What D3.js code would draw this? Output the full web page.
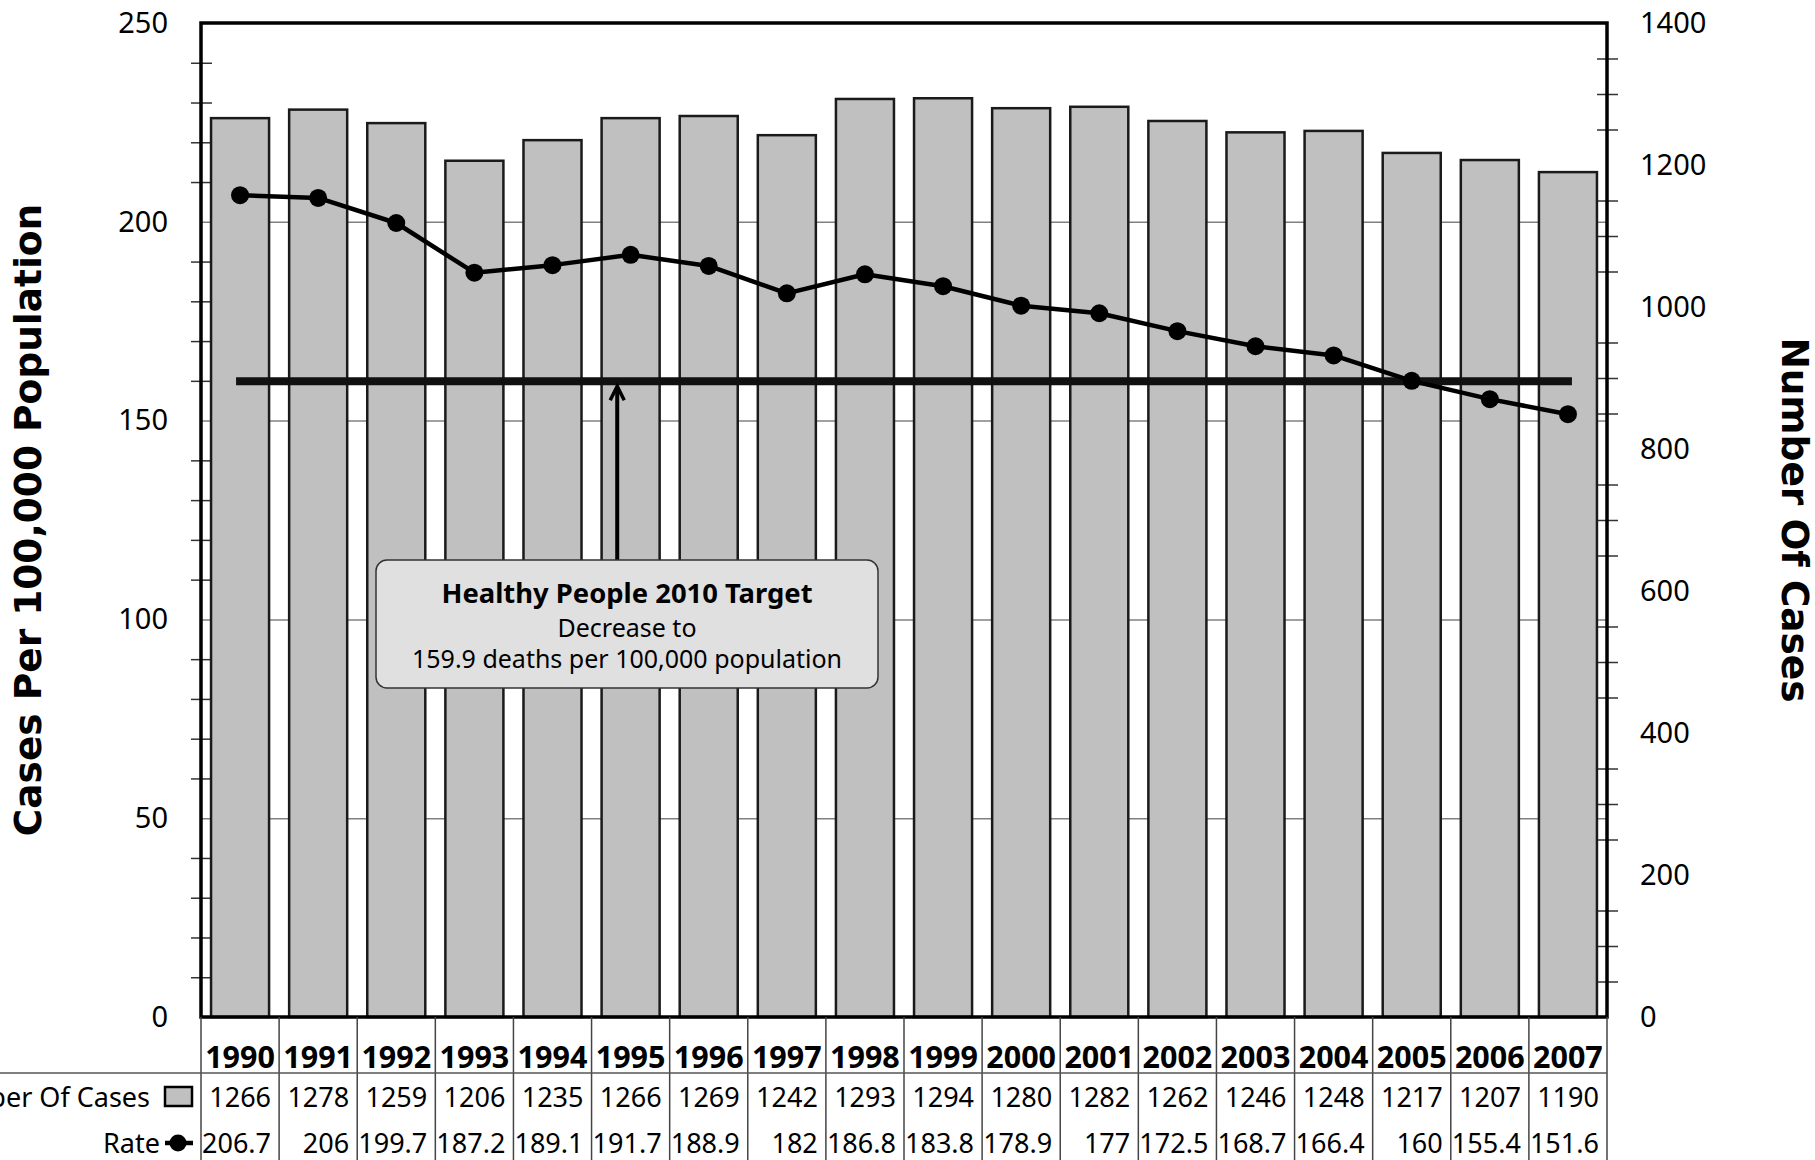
<!DOCTYPE html>
<html>
<head>
<meta charset="utf-8">
<script src="https://cdn.jsdelivr.net/npm/d3@7"></script>
<style>
  html, body { margin: 0; padding: 0; background: #fff; }
  svg { display: block; }
</style>
</head>
<body>
<svg id="chart" width="1815" height="1160"></svg>
<script>
// ---- Data ----
const years = ["1990","1991","1992","1993","1994","1995","1996","1997","1998","1999","2000","2001","2002","2003","2004","2005","2006","2007"];
const cases = [1266,1278,1259,1206,1235,1266,1269,1242,1293,1294,1280,1282,1262,1246,1248,1217,1207,1190];
const rates = [206.7,206,199.7,187.2,189.1,191.7,188.9,182,186.8,183.8,178.9,177,172.5,168.7,166.4,160,155.4,151.6];
const rateTicks = [0,50,100,150,200,250];
const caseTicks = [0,200,400,600,800,1000,1200,1400];
const target = 159.9;
const leftTitle = "Cases Per 100,000 Population";
const rightTitle = "Number Of Cases";
const rowLabels = ["Number Of Cases","Rate"];
const noteLines = ["Healthy People 2010 Target","Decrease to","159.9 deaths per 100,000 population"];

// ---- Layout ----
const L = 201, R = 1607, T = 23, B = 1017;
const svg = d3.select("#chart");
const numFont = "'Noto Sans', 'Open Sans', sans-serif";
const titleFont = "'DejaVu Sans', Verdana, sans-serif";

const x = d3.scaleBand().domain(years).range([L, R]).paddingInner(0.257).paddingOuter(0.1285);
const yRate = d3.scaleLinear().domain([0, 250]).range([B, T]);
const yCases = d3.scaleLinear().domain([0, 1400]).range([B, T]);
const step = x.step();
const cx = d => x(d) + x.bandwidth() / 2;

// gridlines (left major)
const grid = svg.append("g").attr("transform", `translate(${L},0)`)
  .call(d3.axisLeft(yRate).tickValues([50,100,150,200]).tickSize(-(R - L)).tickFormat(""));
grid.select(".domain").remove();
grid.selectAll("line").attr("stroke", "#808080").attr("stroke-width", 1.5);

// minor ticks left
const minorLeft = d3.range(10, 250, 10).filter(v => v % 50 !== 0);
const ml = svg.append("g").attr("transform", `translate(${L - 10},0)`)
  .call(d3.axisLeft(yRate).tickValues(minorLeft).tickSize(-21).tickFormat(""));
ml.select(".domain").remove();
ml.selectAll("line").attr("stroke", "#333").attr("stroke-width", 1.5);

// minor ticks right
const minorRight = d3.range(50, 1400, 50).filter(v => v % 200 !== 0);
const mr = svg.append("g").attr("transform", `translate(${R - 10},0)`)
  .call(d3.axisRight(yCases).tickValues(minorRight).tickSize(21).tickFormat(""));
mr.select(".domain").remove();
mr.selectAll("line").attr("stroke", "#333").attr("stroke-width", 1.5);

// bars
svg.append("g").selectAll("rect").data(years).join("rect")
  .attr("x", d => x(d))
  .attr("width", x.bandwidth())
  .attr("y", (d, i) => yCases(cases[i]))
  .attr("height", (d, i) => B - yCases(cases[i]))
  .attr("fill", "#c0c0c0")
  .attr("stroke", "#1a1a1a")
  .attr("stroke-width", 2.5);

// target line
svg.append("line")
  .attr("x1", cx(years[0])).attr("x2", cx(years[years.length - 1]))
  .attr("y1", yRate(target)).attr("y2", yRate(target))
  .attr("stroke", "#111").attr("stroke-width", 8).attr("stroke-linecap", "square");

// rate line
const line = d3.line().x((d, i) => cx(years[i])).y(d => yRate(d));
svg.append("path").datum(rates)
  .attr("d", line).attr("fill", "none").attr("stroke", "#000").attr("stroke-width", 4.5)
  .attr("stroke-linejoin", "round");
svg.append("g").selectAll("circle").data(rates).join("circle")
  .attr("cx", (d, i) => cx(years[i])).attr("cy", d => yRate(d)).attr("r", 9).attr("fill", "#000");

// plot frame
svg.append("rect").attr("x", L).attr("y", T).attr("width", R - L).attr("height", B - T)
  .attr("fill", "none").attr("stroke", "#000").attr("stroke-width", 3.5);

// axis labels
const la = svg.append("g").attr("transform", `translate(${L},0)`)
  .call(d3.axisLeft(yRate).tickValues(rateTicks).tickSize(0).tickPadding(33).tickFormat(d3.format("d")));
la.select(".domain").remove();
la.selectAll("text").attr("font-family", numFont).attr("font-size", 29).attr("fill", "#000");

const ra = svg.append("g").attr("transform", `translate(${R},0)`)
  .call(d3.axisRight(yCases).tickValues(caseTicks).tickSize(0).tickPadding(33).tickFormat(d3.format("d")));
ra.select(".domain").remove();
ra.selectAll("text").attr("font-family", numFont).attr("font-size", 29).attr("fill", "#000");

// axis titles
svg.append("text")
  .attr("transform", `translate(41,${(T + B) / 2}) rotate(-90)`)
  .attr("text-anchor", "middle").attr("font-family", titleFont).attr("font-weight", "bold")
  .attr("font-size", 37.5).text(leftTitle);
svg.append("text")
  .attr("transform", `translate(1782,${(T + B) / 2}) rotate(90)`)
  .attr("text-anchor", "middle").attr("font-family", titleFont).attr("font-weight", "bold")
  .attr("font-size", 37.5).text(rightTitle);

// annotation arrow + box
const arrowX = x(years[5]) + 0.2 * step;
const boxTop = 560, boxBottom = 688, boxLeft = 376, boxRight = 878;
const tipY = yRate(target) + 5;
svg.append("line").attr("x1", arrowX).attr("x2", arrowX).attr("y1", boxTop).attr("y2", tipY + 2)
  .attr("stroke", "#000").attr("stroke-width", 4);
svg.append("path")
  .attr("d", `M${arrowX - 7},${tipY + 14} L${arrowX},${tipY} L${arrowX + 7},${tipY + 14}`)
  .attr("fill", "none").attr("stroke", "#000").attr("stroke-width", 3.5).attr("stroke-linejoin", "miter");

svg.append("rect").attr("x", boxLeft).attr("y", boxTop).attr("width", boxRight - boxLeft).attr("height", boxBottom - boxTop)
  .attr("rx", 11).attr("fill", "#e0e0e0").attr("stroke", "#333").attr("stroke-width", 1.5);
const bx = (boxLeft + boxRight) / 2;
svg.append("text").attr("x", bx).attr("y", 603).attr("text-anchor", "middle")
  .attr("font-family", numFont).attr("font-weight", "bold").attr("font-size", 27.4).text(noteLines[0]);
svg.append("text").attr("x", bx).attr("y", 637).attr("text-anchor", "middle")
  .attr("font-family", numFont).attr("font-size", 25).text(noteLines[1]);
svg.append("text").attr("x", bx).attr("y", 668).attr("text-anchor", "middle")
  .attr("font-family", numFont).attr("font-size", 25).text(noteLines[2]);

// ---- data table ----
const tbl = svg.append("g");
const bounds = d3.range(years.length + 1).map(i => L + i * step);
tbl.selectAll("line.v").data(bounds).join("line").attr("class", "v")
  .attr("x1", d => d).attr("x2", d => d).attr("y1", B).attr("y2", 1160)
  .attr("stroke", "#444").attr("stroke-width", 1.5);
tbl.append("line").attr("x1", 0).attr("x2", R).attr("y1", 1073).attr("y2", 1073)
  .attr("stroke", "#555").attr("stroke-width", 1.5);

tbl.selectAll("text.yr").data(years).join("text").attr("class", "yr")
  .attr("x", d => cx(d)).attr("y", 1068).attr("text-anchor", "middle")
  .attr("font-family", numFont).attr("font-weight", "bold").attr("font-size", 30.5).text(d => d);
tbl.selectAll("text.cs").data(cases).join("text").attr("class", "cs")
  .attr("x", (d, i) => cx(years[i]) + 31).attr("y", 1107).attr("text-anchor", "end")
  .attr("font-family", numFont).attr("font-size", 27).text(d => d);
tbl.selectAll("text.rt").data(rates).join("text").attr("class", "rt")
  .attr("x", (d, i) => cx(years[i]) + 31).attr("y", 1153).attr("text-anchor", "end")
  .attr("font-family", numFont).attr("font-size", 27).text(d => d);

// row labels with legend symbols
tbl.append("text").attr("x", 150).attr("y", 1107).attr("text-anchor", "end")
  .attr("font-family", numFont).attr("font-size", 27).text(rowLabels[0]);
tbl.append("rect").attr("x", 165).attr("y", 1087).attr("width", 27).attr("height", 19)
  .attr("fill", "#c0c0c0").attr("stroke", "#000").attr("stroke-width", 2.5);
tbl.append("text").attr("x", 160).attr("y", 1153).attr("text-anchor", "end")
  .attr("font-family", numFont).attr("font-size", 27).text(rowLabels[1]);
tbl.append("line").attr("x1", 165).attr("x2", 193).attr("y1", 1143).attr("y2", 1143)
  .attr("stroke", "#000").attr("stroke-width", 4.5);
tbl.append("circle").attr("cx", 178).attr("cy", 1143).attr("r", 8.5).attr("fill", "#000");
</script>
</body>
</html>
